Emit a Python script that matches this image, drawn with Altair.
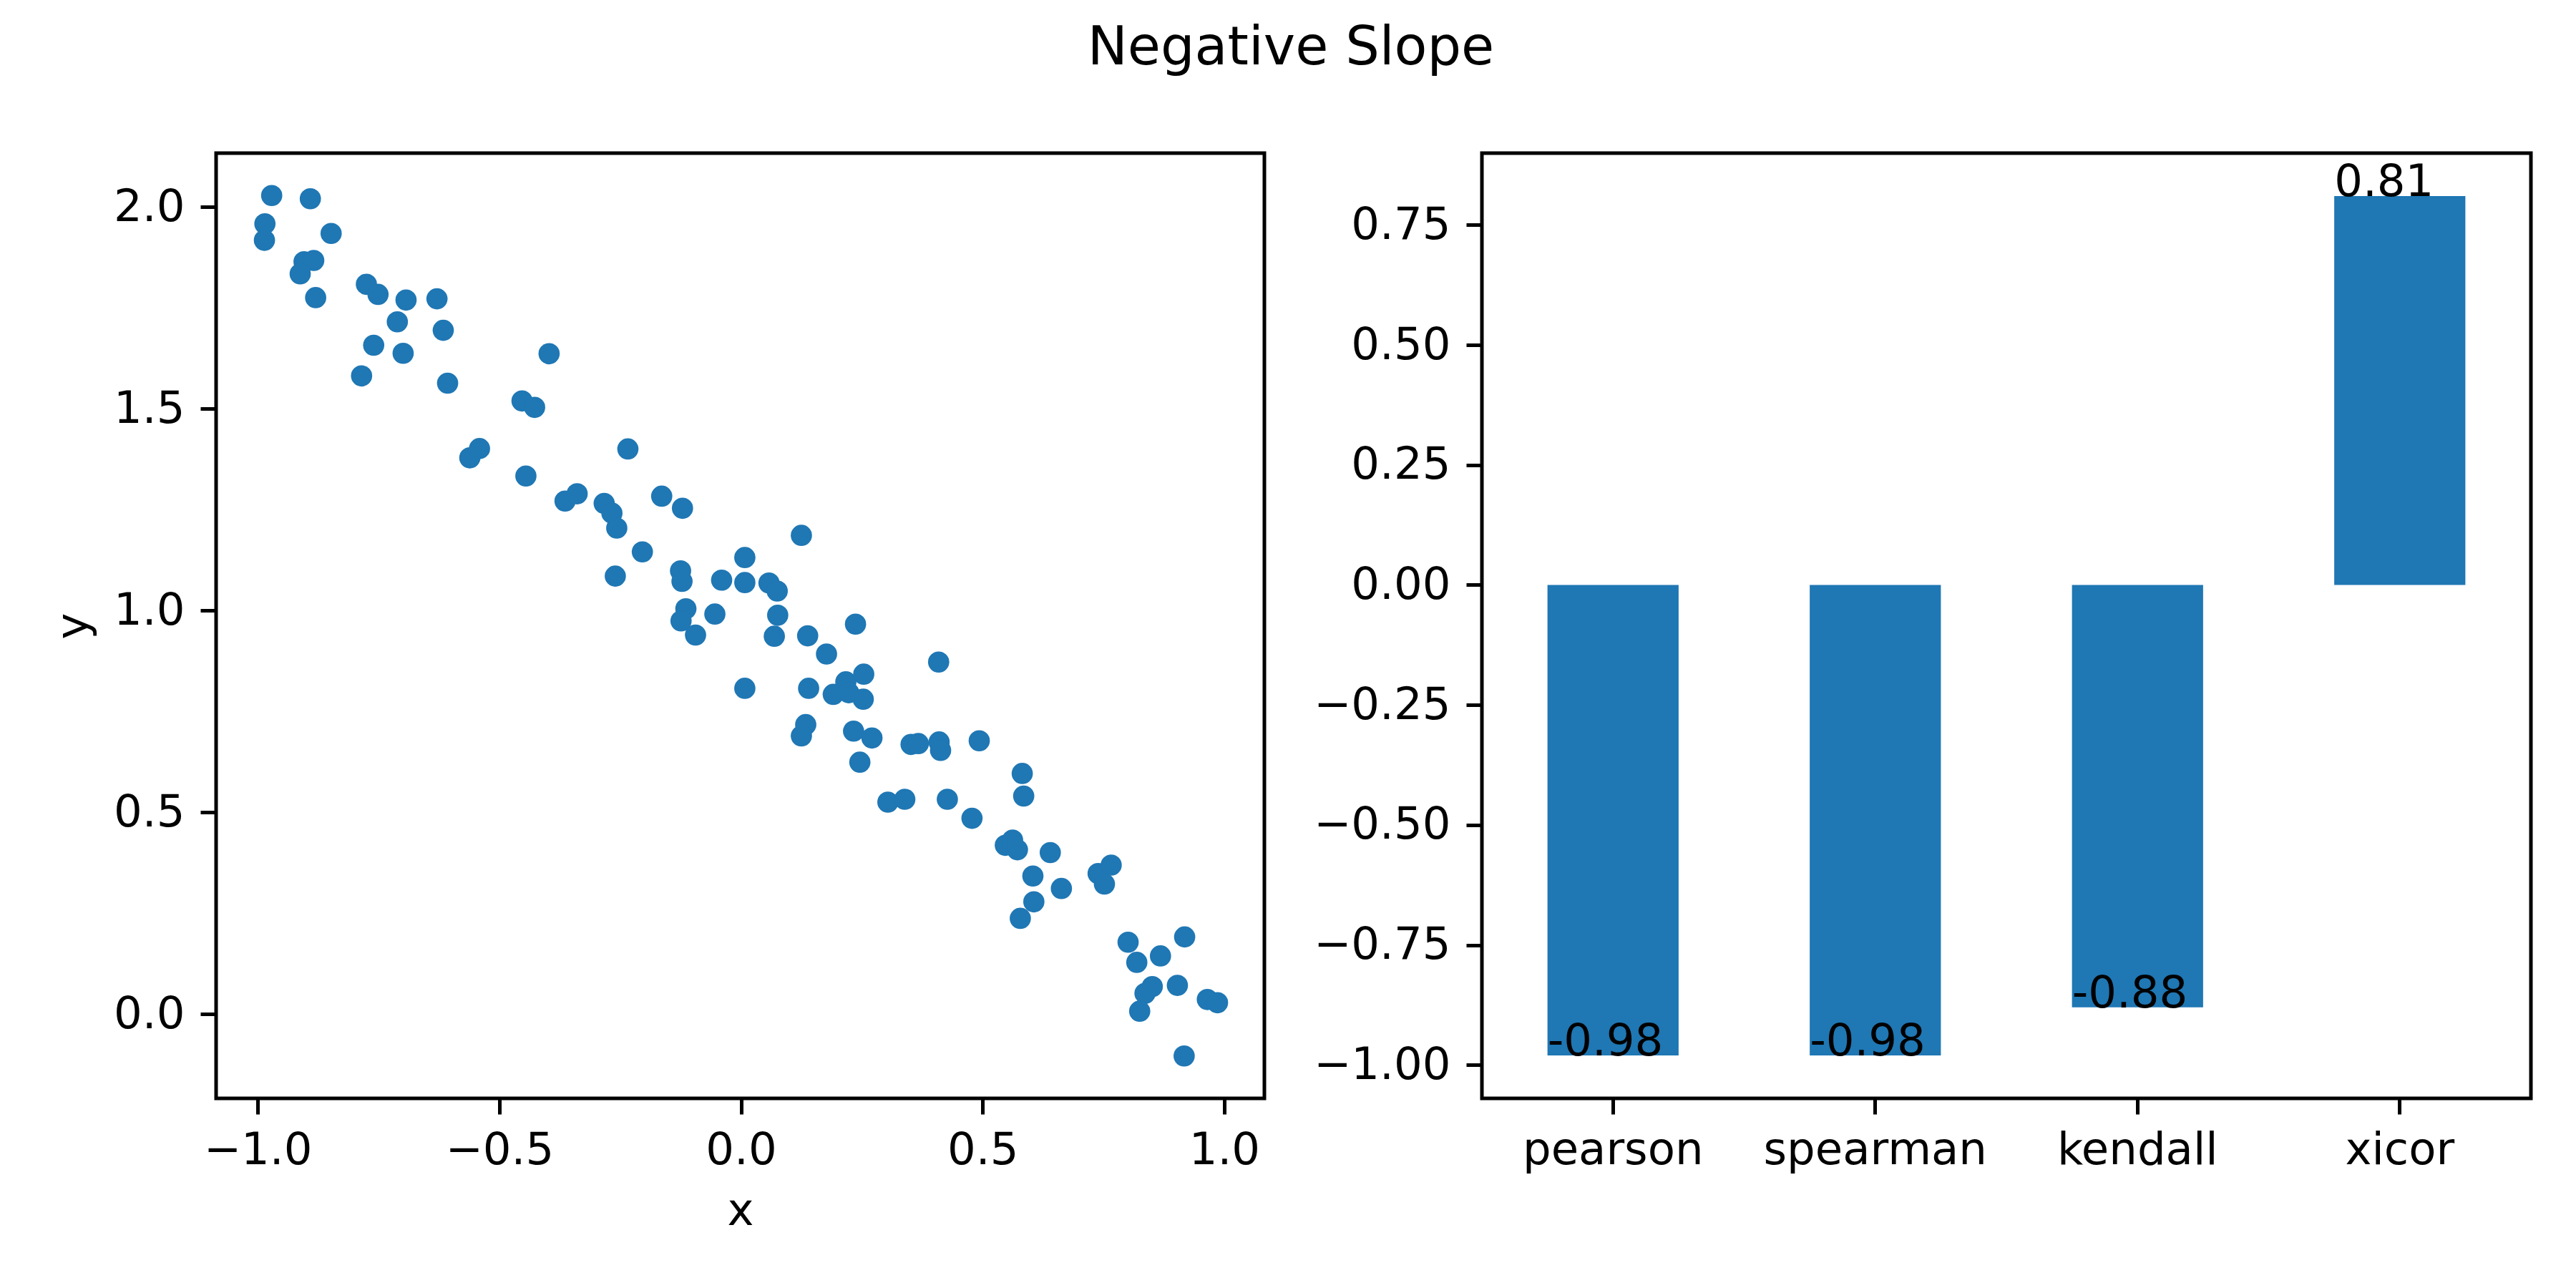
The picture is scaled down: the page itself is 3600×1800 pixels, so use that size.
import altair as alt
import pandas as pd

# ---------------- data ----------------
x_vals = [
    -0.971, -0.891, -0.985, -0.986, -0.848, -0.904, -0.884, -0.912, -0.880, -0.775,
    -0.751, -0.693, -0.629, -0.711, -0.616, -0.760, -0.699, -0.785, -0.607, -0.397,
    -0.453, -0.427, -0.541, -0.561, -0.445,
    -0.364, -0.339, -0.234, -0.283, -0.267, -0.257, -0.164, -0.121, -0.204, -0.260,
    -0.125, -0.122, -0.040, 0.008, 0.008, 0.058, 0.075, 0.125, -0.114, -0.124,
    -0.094, -0.054, 0.076, 0.069, 0.138, 0.177, 0.237, 0.008, 0.140, 0.217,
    0.254, 0.191, 0.253, 0.223, 0.134, 0.125, 0.233, 0.271, 0.246,
    0.409, 0.352, 0.367, 0.410, 0.413, 0.493, 0.304, 0.339, 0.427, 0.478,
    0.582, 0.585, 0.547, 0.562, 0.572, 0.640, 0.604, 0.663, 0.606, 0.578,
    0.739, 0.766, 0.752, 0.801, 0.819, 0.868, 0.918, 0.851, 0.836, 0.825,
    0.903, 0.965, 0.986, 0.917,
]
y_vals = [
    2.028, 2.020, 1.958, 1.917, 1.934, 1.864, 1.867, 1.834, 1.775, 1.808,
    1.783, 1.769, 1.772, 1.715, 1.694, 1.657, 1.637, 1.581, 1.563, 1.636,
    1.519, 1.503, 1.401, 1.378, 1.333,
    1.271, 1.289, 1.400, 1.265, 1.241, 1.204, 1.283, 1.253, 1.145, 1.085,
    1.098, 1.072, 1.075, 1.131, 1.069, 1.068, 1.048, 1.186, 1.004, 0.974,
    0.939, 0.991, 0.988, 0.936, 0.937, 0.892, 0.966, 0.807, 0.807, 0.823,
    0.842, 0.792, 0.780, 0.796, 0.717, 0.689, 0.701, 0.684, 0.624,
    0.872, 0.668, 0.670, 0.674, 0.653, 0.677, 0.525, 0.532, 0.532, 0.485,
    0.596, 0.540, 0.418, 0.431, 0.407, 0.400, 0.342, 0.311, 0.278, 0.237,
    0.348, 0.369, 0.322, 0.178, 0.128, 0.144, 0.191, 0.068, 0.051, 0.007,
    0.071, 0.036, 0.028, -0.104,
]
metrics = ["pearson", "spearman", "kendall", "xicor"]
corr_values = [-0.98, -0.98, -0.88, 0.81]
corr_labels = ["-0.98", "-0.98", "-0.88", "0.81"]

x_ticks = [-1.0, -0.5, 0.0, 0.5, 1.0]
y_ticks = [0.0, 0.5, 1.0, 1.5, 2.0]
bar_ticks = [-1.0, -0.75, -0.5, -0.25, 0.0, 0.25, 0.5, 0.75]

scatter_df = pd.DataFrame({"x": x_vals, "y": y_vals})
bar_df = pd.DataFrame({"metric": metrics, "value": corr_values, "label": corr_labels})

# ---------------- style ----------------
FONT = "DejaVu Sans"
BLUE = "#1f77b4"
FS = 62.5

common = dict(
    domain=False, grid=False, ticks=True, tickSize=22, tickWidth=5,
    tickColor="black", labelFont=FONT, labelFontSize=FS, labelColor="black",
    labelFlush=False, labelOverlap=False, labelLimit=0,
    titleFont=FONT, titleFontSize=FS, titleFontWeight="normal", titleColor="black",
)

W1, W2, H = 1465, 1466, 1321

scatter = alt.Chart(scatter_df).mark_circle(
    size=880, color=BLUE, opacity=1
).encode(
    x=alt.X("x:Q",
            scale=alt.Scale(domain=[-1.086, 1.083], nice=False, zero=False),
            axis=alt.Axis(values=x_ticks, format=".1f", title="x",
                          labelPadding=20, titleY=176, titleBaseline="alphabetic",
                          **common)),
    y=alt.Y("y:Q",
            scale=alt.Scale(domain=[-0.209, 2.133], nice=False, zero=False),
            axis=alt.Axis(values=y_ticks, format=".1f", title="y",
                          labelPadding=22, titleX=-181, titleY=H / 2,
                          titleAngle=270, titleBaseline="alphabetic", titleAlign="center",
                          **common)),
).properties(width=W1, height=H)

xb = alt.X("metric:N", sort=metrics,
           scale=alt.Scale(paddingInner=0.5, paddingOuter=0.25),
           axis=alt.Axis(title=None, labelAngle=0, labelPadding=20, **common))
yb = alt.Y("value:Q",
           scale=alt.Scale(domain=[-1.0695, 0.8995], nice=False, zero=False),
           axis=alt.Axis(values=bar_ticks, format=".2f", title=None,
                         labelPadding=22, **common))

bars = alt.Chart(bar_df).mark_bar(color=BLUE).encode(
    x=xb, y=yb, y2=alt.datum(0)
)
labels = alt.Chart(bar_df).mark_text(
    align="left", baseline="alphabetic", font=FONT, fontSize=FS, color="black"
).encode(
    x=alt.X("metric:N", sort=metrics, bandPosition=0),
    y="value:Q",
    text="label:N",
)
bar_chart = alt.layer(bars, labels).properties(width=W2, height=H)

chart = alt.hconcat(
    scatter, bar_chart, spacing=304, bounds="flush",
    title=alt.TitleParams("Negative Slope", font=FONT, fontSize=75,
                          fontWeight="normal", color="black", anchor="middle",
                          baseline="alphabetic", offset=47),
).configure_view(
    stroke="black", strokeWidth=5
).properties(
    padding={"left": 60, "top": 21, "right": 20, "bottom": 20}
)

chart.save("out.html", embed_options={"renderer": "svg", "actions": False})
